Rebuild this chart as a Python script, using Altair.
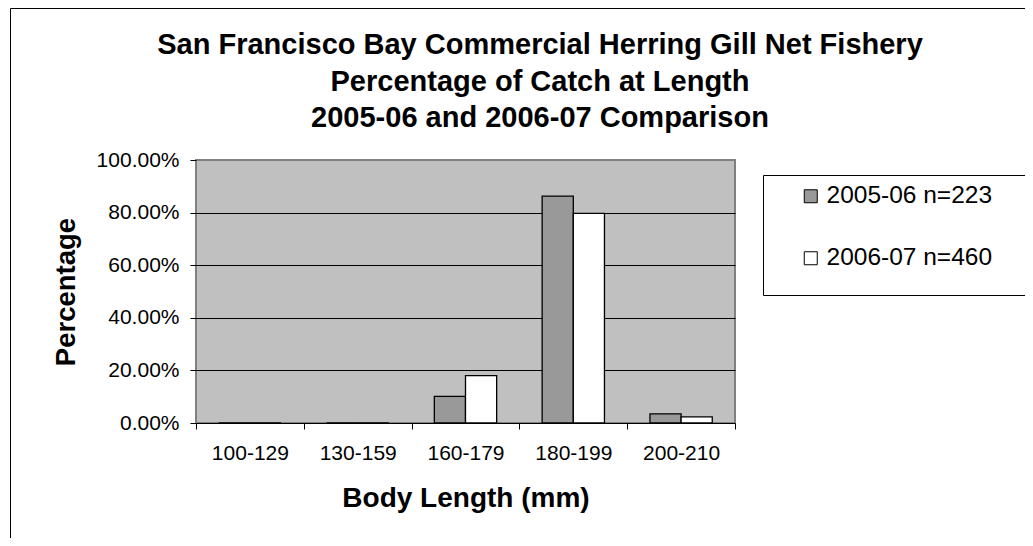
import altair as alt
import pandas as pd

# ---- data ----
categories = ["100-129", "130-159", "160-179", "180-199", "200-210"]
series = ["2005-06 n=223", "2006-07 n=460"]
pct_2005_06 = [0.0, 0.0, 10.1, 86.3, 3.5]
pct_2006_07 = [0.0, 0.0, 18.0, 79.7, 2.3]
y_tick_values = [0.0, 0.2, 0.4, 0.6, 0.8, 1.0]
series_colors = ["#999999", "#ffffff"]
title_lines = [
    "San Francisco Bay Commercial Herring Gill Net Fishery",
    "Percentage of Catch at Length",
    "2005-06 and 2006-07 Comparison",
]

rows = []
for cat, a, b in zip(categories, pct_2005_06, pct_2006_07):
    rows.append({"Length": cat, "Season": series[0], "Share": a / 100.0})
    rows.append({"Length": cat, "Season": series[1], "Share": b / 100.0})
df = pd.DataFrame(rows)

FONT = "Liberation Sans"
one = pd.DataFrame({"k": [0]})

# outer chart frame (decoration)
frame = alt.Chart(one).mark_rect(
    fillOpacity=0, stroke="black", strokeWidth=1
).encode(
    x=alt.value(-185.5), x2=alt.value(1200),
    y=alt.value(-151.5), y2=alt.value(1200),
)

# legend box (decoration)
legend_box = alt.Chart(one).mark_rect(
    fill="white", stroke="black", strokeWidth=1
).encode(
    x=alt.value(567.5), x2=alt.value(832.5),
    y=alt.value(15.5), y2=alt.value(135.5),
)

bars = alt.Chart(df).mark_bar(stroke="black", strokeWidth=1.3).encode(
    x=alt.X(
        "Length:N",
        sort=categories,
        scale=alt.Scale(paddingInner=0, paddingOuter=0),
        axis=alt.Axis(
            title="Body Length (mm)",
            labelAngle=0,
            tickBand="extent",
            grid=False,
            domainColor="black",
            domainWidth=1,
            tickColor="black",
            tickSize=6,
            labelFont=FONT,
            labelFontSize=21,
            labelColor="black",
            labelPadding=13,
            titleFont=FONT,
            titleFontSize=28,
            titleFontWeight="bold",
            titleColor="black",
            titlePadding=21,
        ),
    ),
    xOffset=alt.XOffset(
        "Season:N",
        sort=series,
        scale=alt.Scale(paddingInner=0, paddingOuter=0.73),
    ),
    y=alt.Y(
        "Share:Q",
        scale=alt.Scale(domain=[0, 1], nice=False),
        axis=alt.Axis(
            title="Percentage",
            values=y_tick_values,
            format=".2%",
            domain=False,
            grid=True,
            gridColor="black",
            gridWidth=1,
            gridOpacity={"condition": {"test": "datum.value >= 1 || datum.value <= 0", "value": 0}, "value": 1},
            tickColor="black",
            tickSize=6,
            labelFont=FONT,
            labelFontSize=21,
            labelColor="black",
            labelPadding=11,
            titleFont=FONT,
            titleFontSize=27.5,
            titleFontWeight="bold",
            titleColor="black",
            titlePadding=16,
        ),
    ),
    color=alt.Color(
        "Season:N",
        sort=series,
        scale=alt.Scale(domain=series, range=series_colors),
        legend=alt.Legend(
            title=None,
            orient="none",
            legendX=602.5,
            legendY=24,
            direction="vertical",
            symbolType="square",
            symbolSize=169,
            symbolStrokeColor="black",
            symbolStrokeWidth=1,
            labelFont=FONT,
            labelFontSize=24.5,
            labelColor="black",
            labelOffset=3.5,
            labelLimit=400,
            rowPadding=37,
            padding=0,
        ),
    ),
)

chart = alt.layer(frame, legend_box, bars).properties(
    width=539,
    height=263,
    padding={"left": 188, "top": 152, "right": 290, "bottom": 115},
    autosize=alt.AutoSizeParams(type="none"),
    title=alt.TitleParams(
        text=title_lines,
        font=FONT,
        fontSize=29,
        fontWeight="bold",
        color="black",
        anchor="middle",
        dx=74.5,
        dy=152,
        offset=27,
        lineHeight=36.5,
    ),
).configure(
    background="white", font=FONT
).configure_view(
    fill="#C0C0C0", stroke="#808080", strokeWidth=2
)

chart.save("out.html", embed_options={"renderer": "svg", "actions": False})
